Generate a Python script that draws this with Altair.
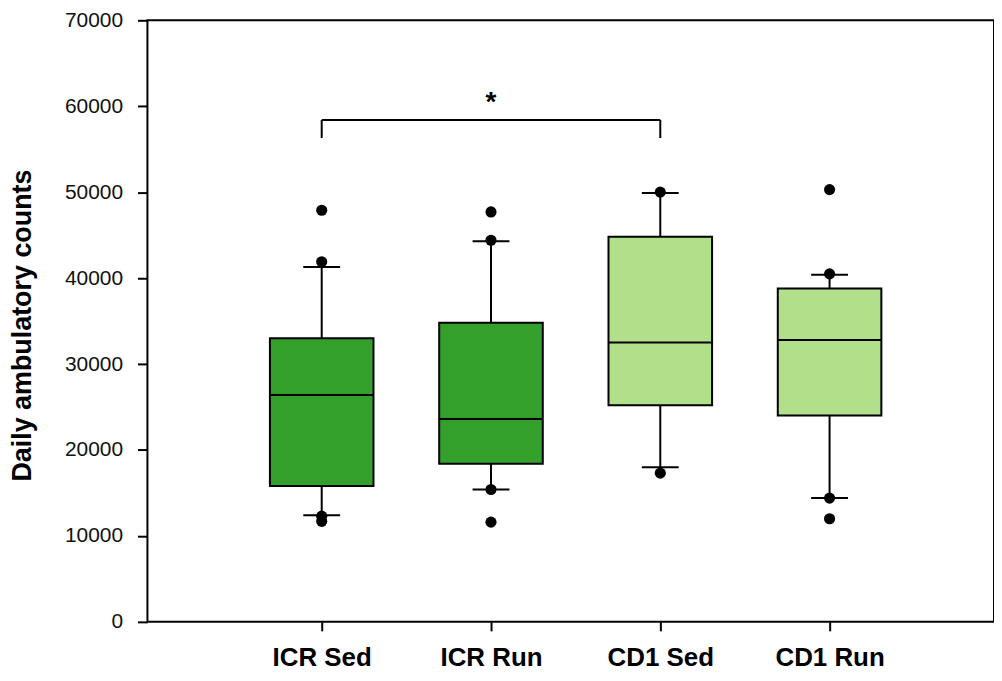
import json
import altair as alt
import pandas as pd

groups = ["ICR Sed", "ICR Run", "CD1 Sed", "CD1 Run"]
fill_colors = ["#33a02c", "#33a02c", "#b2df8a", "#b2df8a"]
q1 = [15800, 18400, 25200, 24000]
median = [26400, 23600, 32500, 32800]
q3 = [33000, 34800, 44800, 38800]
whisker_low = [12400, 15400, 18000, 14400]
whisker_high = [41300, 44300, 49900, 40400]
points = {
    "ICR Sed": [47900, 41900, 12300, 11700],
    "ICR Run": [47700, 44400, 15400, 11600],
    "CD1 Sed": [50000, 17300],
    "CD1 Run": [50300, 40500, 14400, 12000],
}
bracket_from = "ICR Sed"
bracket_to = "CD1 Sed"
bracket_star_at = "ICR Run"
bracket_top = 58400
bracket_bottom = 56300
star_y = 59500

y_ticks = [0, 10000, 20000, 30000, 40000, 50000, 60000, 70000]

box_df = pd.DataFrame({
    "pos": [i + 1 for i in range(len(groups))],
    "group": groups,
    "color": fill_colors,
    "q1": q1, "median": median, "q3": q3,
    "lo": whisker_low, "hi": whisker_high,
})
pts_df = pd.DataFrame([
    {"pos": groups.index(g) + 1, "v": v} for g, vals in points.items() for v in vals
])
br_df = pd.DataFrame({
    "x1": [groups.index(bracket_from) + 1],
    "x2": [groups.index(bracket_to) + 1],
    "xs": [groups.index(bracket_star_at) + 1],
    "top": [bracket_top], "bot": [bracket_bottom], "star": [star_y],
})
ends_df = pd.DataFrame({
    "x": [groups.index(bracket_from) + 1, groups.index(bracket_to) + 1],
    "top": [bracket_top, bracket_top], "bot": [bracket_bottom, bracket_bottom],
})

label_expr = json.dumps(groups) + "[datum.value - 1]"

W = 850
H = 604
xscale = alt.Scale(domain=[0, W / 172.0], nice=False, zero=False)
yscale = alt.Scale(domain=[0, 70000], nice=False)

xax = alt.Axis(values=[1, 2, 3, 4], labelExpr=label_expr, title=None, grid=False,
               domain=False, tickSize=9, tickWidth=2, tickColor="black",
               labelFont="Liberation Sans", labelFontSize=26, labelFontWeight="bold",
               labelColor="black", labelPadding=14)
yax = alt.Axis(values=y_ticks, title="Daily ambulatory counts", grid=False, domain=False,
               tickSize=10, tickWidth=2, tickColor="black",
               labelFont="Liberation Sans", labelFontSize=21, labelColor="#111",
               labelPadding=15, format="d",
               titleFont="Liberation Sans", titleFontSize=27, titleFontWeight="bold",
               titleColor="black", titleX=-125, titleY=306, titleAngle=-90,
               titleAlign="center", titleBaseline="middle")

base = alt.Chart(box_df)

whisk_lo = base.mark_rule(color="black", strokeWidth=2).encode(
    x=alt.X("pos:Q", scale=xscale, axis=xax),
    y=alt.Y("lo:Q", scale=yscale, axis=yax), y2="q1:Q")
whisk_hi = base.mark_rule(color="black", strokeWidth=2).encode(
    x=alt.X("pos:Q", scale=xscale), y=alt.Y("q3:Q", scale=yscale), y2="hi:Q")
box = base.mark_bar(size=104, stroke="black", strokeWidth=2).encode(
    x=alt.X("pos:Q", scale=xscale), y=alt.Y("q1:Q", scale=yscale), y2="q3:Q",
    color=alt.Color("color:N", scale=None))
med = base.mark_tick(size=104, thickness=2, color="black", opacity=1, orient="horizontal").encode(
    x=alt.X("pos:Q", scale=xscale), y=alt.Y("median:Q", scale=yscale))
cap_lo = base.mark_tick(size=37, thickness=2, color="black", opacity=1, orient="horizontal").encode(
    x=alt.X("pos:Q", scale=xscale), y=alt.Y("lo:Q", scale=yscale))
cap_hi = base.mark_tick(size=37, thickness=2, color="black", opacity=1, orient="horizontal").encode(
    x=alt.X("pos:Q", scale=xscale), y=alt.Y("hi:Q", scale=yscale))
dots = alt.Chart(pts_df).mark_circle(size=125, color="black", opacity=1).encode(
    x=alt.X("pos:Q", scale=xscale), y=alt.Y("v:Q", scale=yscale))

br_h = alt.Chart(br_df).mark_rule(color="black", strokeWidth=2).encode(
    x=alt.X("x1:Q", scale=xscale), x2="x2:Q", y=alt.Y("top:Q", scale=yscale))
br_v = alt.Chart(ends_df).mark_rule(color="black", strokeWidth=2).encode(
    x=alt.X("x:Q", scale=xscale), y=alt.Y("bot:Q", scale=yscale), y2="top:Q")
star = alt.Chart(br_df).mark_text(text="*", font="Liberation Sans", fontSize=28,
                                  fontWeight="bold", color="black",
                                  baseline="alphabetic", align="center").encode(
    x=alt.X("xs:Q", scale=xscale), y=alt.Y("star:Q", scale=yscale))

chart = alt.layer(whisk_lo, whisk_hi, box, med, cap_lo, cap_hi, dots, br_h, br_v, star).properties(
    width=W, height=H,
    background="white",
    autosize=alt.AutoSizeParams(type="none"),
    padding={"left": 140, "top": 11, "right": 0, "bottom": 50},
).configure_view(stroke="black", strokeWidth=2)

chart.save("out.html", embed_options={"renderer": "svg", "actions": False})
